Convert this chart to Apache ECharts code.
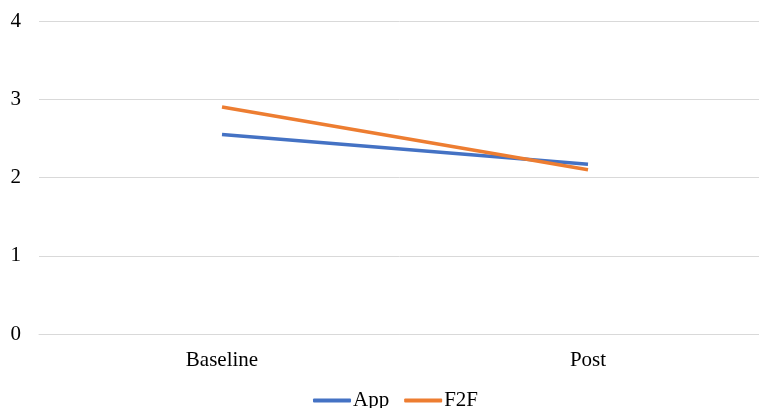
<!DOCTYPE html>
<html>
<head>
<meta charset="utf-8">
<script src="https://cdn.jsdelivr.net/npm/echarts@6/dist/echarts.min.js"></script>
<style>
  html, body { margin: 0; padding: 0; background: #fff; }
  #chart { width: 759px; height: 408px; }
</style>
</head>
<body>
<div id="chart"></div>
<script>
var categories = ['Baseline', 'Post'];
var appValues = [2.55, 2.17];
var f2fValues = [2.90, 2.10];
var yTicks = [0, 1, 2, 3, 4];

var font = '"Liberation Serif", "Times New Roman", serif';
var chart = echarts.init(document.getElementById('chart'));
chart.setOption({
    animation: false,
    textStyle: { fontFamily: font },
    grid: { left: 39, width: 732, top: 21, bottom: 74, outerBoundsMode: 'none', containLabel: false },
    legend: {
        top: 390,
        left: 313,
        padding: 0,
        icon: 'roundRect',
        itemWidth: 38,
        itemHeight: 4,
        itemGap: 15,
        textStyle: { fontFamily: font, fontSize: 21, color: '#000', padding: [3, 0, 0, -3] },
        data: ['App', 'F2F']
    },
    xAxis: {
        type: 'category',
        data: categories,
        boundaryGap: true,
        axisLine: { show: true, lineStyle: { color: '#d9d9d9', width: 1 } },
        axisTick: { show: false },
        axisLabel: { color: '#000', fontSize: 21, fontFamily: font, margin: 16 }
    },
    yAxis: {
        type: 'value',
        min: yTicks[0],
        max: yTicks[yTicks.length - 1],
        interval: 1,
        axisLine: { show: false },
        axisTick: { show: false },
        axisLabel: { color: '#000', fontSize: 21, fontFamily: font, margin: 18 },
        splitLine: { lineStyle: { color: '#d9d9d9', width: 1 } }
    },
    series: [
        {
            name: 'App',
            type: 'line',
            data: appValues,
            symbol: 'none',
            lineStyle: { color: '#4472C4', width: 3.5 },
            itemStyle: { color: '#4472C4' }
        },
        {
            name: 'F2F',
            type: 'line',
            data: f2fValues,
            symbol: 'none',
            lineStyle: { color: '#ED7D31', width: 3.5 },
            itemStyle: { color: '#ED7D31' }
        }
    ]
});
</script>
</body>
</html>
